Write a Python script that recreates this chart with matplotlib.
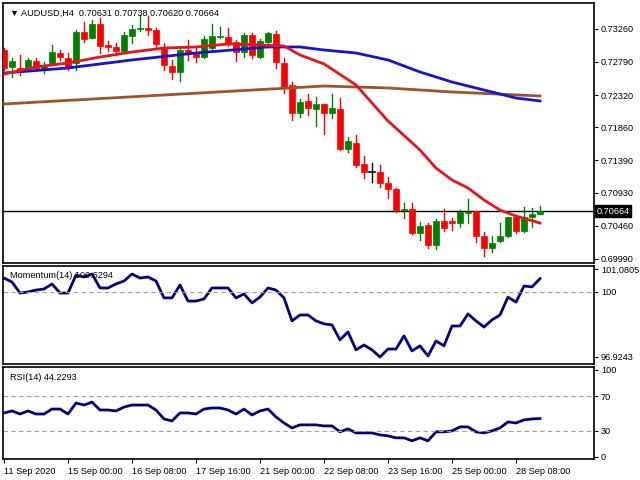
import matplotlib
matplotlib.use("Agg")
import matplotlib.pyplot as plt
from matplotlib.patches import Rectangle

plt.rcParams['font.family'] = ['Liberation Sans', 'DejaVu Sans']

opens = [.72961,.72719,.72705,.72690,.72804,.72705,.72776,.72918,.72847,.72776,
         .73217,.73132,.73331,.73032,.73004,.72947,.73160,.73260,.73274,.73246,
         .72989,.72733,.72648,.72961,.72918,.72861,.72989,.73146,.73146,.73075,
         .72932,.73175,.72861,.73075,.73189,.72776,.72463,.72064,.72235,.72121,
         .72192,.72064,.72121,.71551,.71637,.71338,.71224,.71224,.71067,.70982,
         .70682,.70697,.70355,.70469,.70184,.70526,.70526,.70497,.70640,.70668,
         .70312,.70141,.70241,.70312,.70583,.70384,.70583,.70631]
highs = [.72989,.72847,.72890,.72847,.72847,.72790,.73032,.72961,.72918,.73246,
         .73360,.73388,.73417,.73089,.73061,.73217,.73317,.73459,.73445,.73274,
         .73061,.72819,.72989,.73103,.72989,.73160,.73331,.73288,.73274,.73103,
         .73203,.73203,.73118,.73217,.73232,.72847,.72505,.72263,.72334,.72292,
         .72192,.72334,.72277,.71722,.71751,.71452,.71352,.71323,.71153,.70996,
         .70782,.70782,.70512,.70497,.70554,.70697,.70569,.70682,.70839,.70668,
         .70369,.70312,.70497,.70583,.70597,.70725,.70711,.70738]
lows = [.72676,.72577,.72605,.72662,.72662,.72633,.72747,.72819,.72676,.72676,
        .73075,.73132,.72918,.72947,.72890,.72918,.73061,.73232,.73175,.73004,
        .72676,.72548,.72520,.72819,.72790,.72847,.72961,.73132,.73018,.72804,
        .72861,.72847,.72847,.73032,.72705,.72349,.71964,.72007,.72035,.71879,
        .71765,.71993,.71537,.71509,.71295,.71138,.71081,.71010,.70853,.70654,
        .70569,.70341,.70255,.70141,.70127,.70384,.70398,.70441,.70497,.70227,
        .70027,.70085,.70227,.70298,.70355,.70369,.70441,.70620]
closes = [.72705,.72804,.72676,.72819,.72705,.72747,.72932,.72861,.72719,.73217,
          .73118,.73331,.73018,.73004,.72947,.73175,.73260,.73274,.73246,.73046,
          .72747,.72648,.72961,.72932,.72861,.73118,.73160,.73160,.73061,.72932,
          .73175,.72890,.73089,.73203,.72790,.72434,.72064,.72220,.72135,.72192,
          .72064,.72135,.71551,.71665,.71323,.71224,.71224,.71067,.70982,.70682,
          .70697,.70355,.70455,.70184,.70526,.70426,.70497,.70654,.70654,.70312,
          .70141,.70213,.70312,.70583,.70384,.70583,.70626,.70664]

ma_fast_idx = [0,4,8,12,16,20,24,28,32,35,37,40,44,48,52,54,56,58,60,62,64,67]
ma_fast = [.72619,.72719,.72776,.72861,.72932,.72989,.73004,.73046,.73032,.73018,.72890,
           .72762,.72463,.71950,.71537,.71280,.71110,.70996,.70825,.70682,.70597,.70497]
ma_mid_idx = [0,8,16,24,33,37,40,44,48,52,56,60,64,67]
ma_mid = [.72633,.72705,.72819,.72918,.73004,.73004,.72961,.72918,.72819,.72648,.72505,.72391,.72277,.72235]
ma_slow_idx = [0,20,40,48,56,67]
ma_slow = [.72192,.72320,.72448,.72420,.72363,.72306]

momentum = [100.66,100.47,99.95,100.00,100.09,100.14,100.38,99.95,99.95,100.80,
            100.71,100.85,100.19,100.19,100.38,100.52,100.85,100.66,100.71,100.52,
            99.72,99.72,100.33,99.57,99.57,99.67,100.19,100.19,100.19,99.72,
            99.91,99.48,99.76,100.19,100.09,99.72,98.63,98.91,98.91,98.63,
            98.49,98.44,97.73,98.11,97.26,97.49,97.26,96.92,97.30,97.30,
            97.92,97.21,97.45,96.97,97.68,97.45,98.39,98.39,98.96,98.63,
            98.34,98.68,98.91,99.76,99.52,100.28,100.24,100.63]
rsi = [50.6,52.9,49.4,52.9,49.4,49.4,55.1,55.1,49.4,62.0,
       59.7,63.1,54.0,54.0,52.9,57.4,59.7,59.7,59.7,54.0,
       43.7,41.4,50.6,50.6,49.4,55.1,56.3,56.3,54.0,49.4,
       55.1,48.3,52.9,55.1,46.0,39.1,33.4,36.9,36.9,36.9,
       35.7,35.7,28.9,32.3,27.7,27.7,27.7,25.4,24.3,22.0,
       22.0,18.6,22.0,18.6,28.9,28.9,30.0,34.6,34.6,28.9,
       27.7,30.0,33.4,40.3,39.1,42.6,43.7,44.2]

price_ticks = [0.73260,0.72790,0.72320,0.71860,0.71390,0.70930,0.70460,0.69990]
xtick_idx = [0,8,16,24,32,40,48,56,64]
xtick_labels = ["11 Sep 2020","15 Sep 00:00","16 Sep 08:00","17 Sep 16:00","21 Sep 00:00",
                "22 Sep 08:00","23 Sep 16:00","25 Sep 00:00","28 Sep 08:00"]
last_price = 0.70664

W, H = 640, 480
fig = plt.figure(figsize=(6.4, 4.8), dpi=100)
fig.patch.set_facecolor("white")

def mk(y0, y1):
    return fig.add_axes([3 / W, 1 - y1 / H, (594 - 3) / W, (y1 - y0) / H])

ax = mk(3, 263)
am = mk(266, 364)
ar = mk(367, 459)
xl = (-0.125, 73.75)
FS = 6.6

for a in (ax, am, ar):
    a.set_xlim(*xl)
    a.yaxis.tick_right()
    a.tick_params(axis="y", length=3, labelsize=FS, pad=2, width=0.8)
    a.tick_params(axis="x", length=0)
    a.set_xticks([])
    for s in a.spines.values():
        s.set_linewidth(1.2)

for i in range(len(opens)):
    o, h, l, c = opens[i], highs[i], lows[i], closes[i]
    if c > o:
        col = "#008000"
    elif c < o:
        col = "#ff0000"
    else:
        col = "black"
    ax.plot([i, i], [l, h], color=col, lw=1, zorder=2)
    lo, hi = min(o, c), max(o, c)
    if hi - lo < 0.00004:
        ax.plot([i - 0.35, i + 0.35], [o, o], color=col, lw=1.2, zorder=3)
    else:
        ax.add_patch(Rectangle((i - 0.32, lo), 0.64, hi - lo, facecolor=col, edgecolor=col, lw=0.5, zorder=3))

ax.plot(ma_slow_idx, ma_slow, color="#a0522d", lw=2, zorder=4)
ax.plot(ma_mid_idx, ma_mid, color="#1414d2", lw=2, zorder=4)
ax.plot(ma_fast_idx, ma_fast, color="#e8141c", lw=2, zorder=5)
ax.axhline(last_price, color="black", lw=1, zorder=1)
ax.set_ylim(0.69928, 0.73630)
ax.set_yticks(price_ticks)
ax.set_yticklabels([f"{t:.5f}" for t in price_ticks])
ax.text(1.004, last_price, f"{last_price:.5f}", transform=ax.get_yaxis_transform(),
        fontsize=FS, color="white", va="center", ha="left",
        bbox=dict(boxstyle="square,pad=0.15", fc="black", ec="black"))
ax.text(0.012, 0.978, "▼ AUDUSD,H4  0.70631 0.70738 0.70620 0.70664", transform=ax.transAxes,
        fontsize=FS, va="top", ha="left")

idx = list(range(len(momentum)))
am.plot(idx, momentum, color="#000080", lw=2)
am.axhline(100, color="#a0a0a0", lw=0.8, ls=(0, (4, 3)))
am.set_ylim(96.59, 101.23)
am.set_yticks([101.0805, 100, 96.9243])
am.set_yticklabels(["101.0805", "100", "96.9243"])
am.text(0.012, 0.95, "Momentum(14) 100.6294", transform=am.transAxes, fontsize=FS, va="top", ha="left")

ar.plot(idx, rsi, color="#000080", lw=2)
for lv in (70, 30):
    ar.axhline(lv, color="#a0a0a0", lw=0.8, ls=(0, (4, 3)))
ar.set_ylim(-2.3, 103.4)
ar.set_yticks([100, 70, 30, 0])
ar.set_yticklabels(["100", "70", "30", "0"])
ar.text(0.012, 0.94, "RSI(14) 44.2293", transform=ar.transAxes, fontsize=FS, va="top", ha="left")

ar.set_xticks(xtick_idx)
ar.set_xticklabels(xtick_labels, ha="left")
ar.tick_params(axis="x", length=3, labelsize=FS, pad=3, direction="out")

fig.savefig("out.png", dpi=100)
